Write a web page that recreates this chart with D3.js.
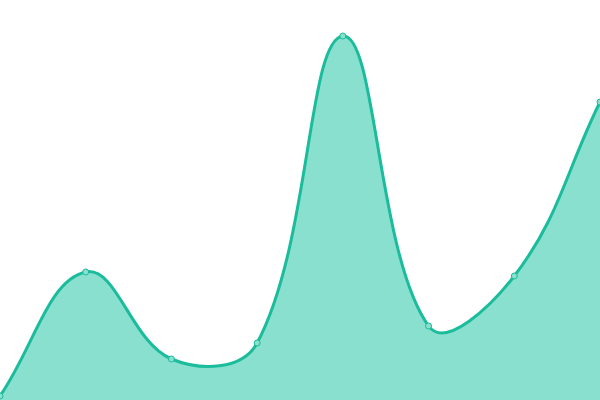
<!DOCTYPE html>
<html>
<head>
<meta charset="utf-8">
<script src="https://cdn.jsdelivr.net/npm/d3@7"></script>
<style>
  body { margin: 0; background: #fff; }
  svg { display: block; }
</style>
</head>
<body>
<svg id="chart" width="600" height="400"></svg>
<script>
// values (index 0..7, scale 0-100)
var indexes = [0, 1, 2, 3, 4, 5, 6, 7];
var values = [1, 32, 10.25, 14.25, 91, 18.5, 31, 74.5];

var width = 600, height = 400;
var tension = 0.4;
var svg = d3.select('#chart');

var x = d3.scaleLinear().domain([0, 7]).range([0, width]);
var y = d3.scaleLinear().domain([0, 100]).range([height, 0]);

var pts = indexes.map(function (d, i) { return [x(d), y(values[i])]; });

// spline with distance weighted control points (tension 0.4), clamped to the plot
function clamp(v, lo, hi) { return Math.max(lo, Math.min(hi, v)); }
function controls(p) {
    return p.map(function (cur, i) {
        var prev = p[i - 1] || cur, next = p[i + 1] || cur;
        var d01 = Math.hypot(cur[0] - prev[0], cur[1] - prev[1]);
        var d12 = Math.hypot(next[0] - cur[0], next[1] - cur[1]);
        var s01 = d01 / (d01 + d12) || 0, s12 = d12 / (d01 + d12) || 0;
        var fa = tension * s01, fb = tension * s12;
        return {
            before: [clamp(cur[0] - fa * (next[0] - prev[0]), 0, width), clamp(cur[1] - fa * (next[1] - prev[1]), 0, height)],
            after: [clamp(cur[0] + fb * (next[0] - prev[0]), 0, width), clamp(cur[1] + fb * (next[1] - prev[1]), 0, height)]
        };
    });
}

function splinePath(p, ctx) {
    var c = controls(p);
    ctx.moveTo(p[0][0], p[0][1]);
    for (var i = 1; i < p.length; i++) {
        ctx.bezierCurveTo(c[i - 1].after[0], c[i - 1].after[1], c[i].before[0], c[i].before[1], p[i][0], p[i][1]);
    }
    return ctx;
}

var areaPath = splinePath(pts, d3.path());
areaPath.lineTo(pts[pts.length - 1][0], y(0));
areaPath.lineTo(pts[0][0], y(0));
areaPath.closePath();

svg.append('path')
    .attr('d', areaPath.toString())
    .attr('fill', '#8ae0cf');

svg.append('path')
    .attr('d', splinePath(pts, d3.path()).toString())
    .attr('fill', 'none')
    .attr('stroke', '#1abc9c')
    .attr('stroke-width', 3);

svg.selectAll('circle.dot')
    .data(pts)
    .enter().append('circle')
    .attr('class', 'dot')
    .attr('cx', function (d) { return d[0]; })
    .attr('cy', function (d) { return d[1]; })
    .attr('r', 3)
    .attr('fill', '#8ae0cf')
    .attr('stroke', '#1abc9c')
    .attr('stroke-width', 1);
</script>
</body>
</html>
